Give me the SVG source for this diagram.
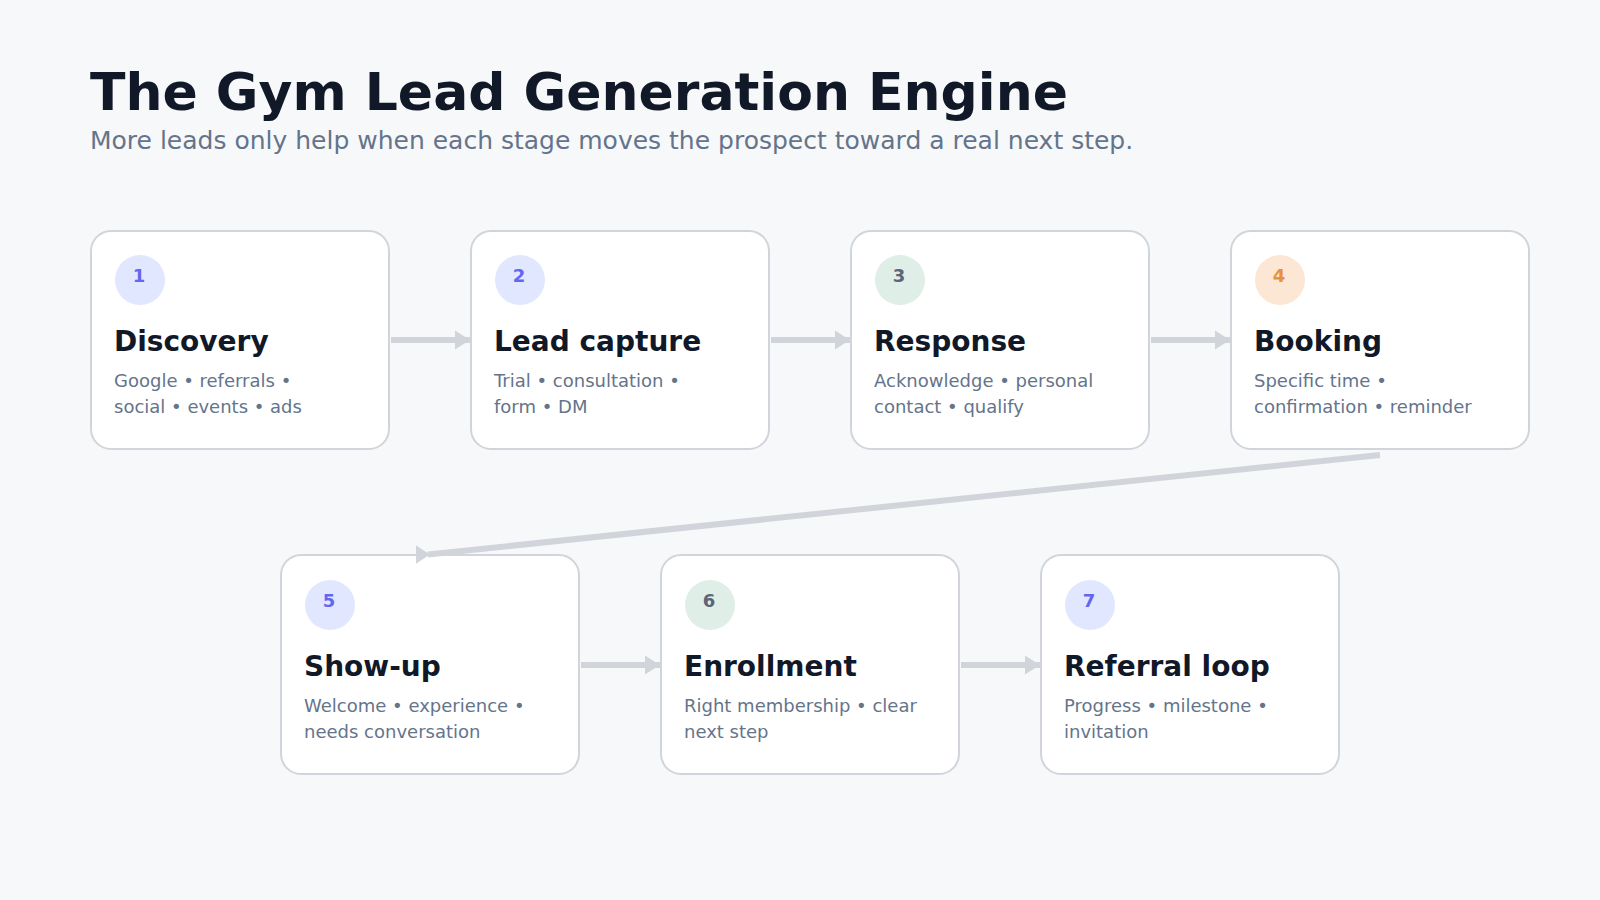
<svg xmlns="http://www.w3.org/2000/svg" width="1600" height="900" viewBox="0 0 1600 900">
  <style>
    .title { font-family: "DejaVu Sans", sans-serif; font-weight: bold; font-size: 52px; fill: #111827; }
    .subtitle { font-family: "DejaVu Sans", sans-serif; font-size: 25px; fill: #64748b; }
    .card { fill: #ffffff; stroke: #d1d5db; stroke-width: 2; }
    .head { font-family: "DejaVu Sans", sans-serif; font-weight: bold; font-size: 28px; fill: #111827; }
    .desc { font-family: "DejaVu Sans", sans-serif; font-size: 18px; fill: #64748b; }
    .num { font-family: "DejaVu Sans", sans-serif; font-weight: bold; font-size: 18px; text-anchor: middle; }
    .c-indigo { fill: #e0e7ff; }
    .t-indigo { fill: #6366f1; }
    .c-green { fill: #dfeee6; }
    .t-green { fill: #5b6478; }
    .c-orange { fill: #fbe7d3; }
    .t-orange { fill: #e8903a; }
    .conn { fill: none; stroke: #d1d5db; stroke-width: 6; }
  </style>
  <defs>
    <marker id="arrow" markerUnits="userSpaceOnUse" markerWidth="16" markerHeight="20" refX="15" refY="10" orient="auto">
      <path d="M0,0.5 L15,10 L0,19.5 Z" fill="#d1d5db"/>
    </marker>
    <marker id="arrow-fixed" markerUnits="userSpaceOnUse" markerWidth="16" markerHeight="20" refX="12" refY="9.3" orient="0">
      <path d="M0,0 L14,9.3 L0,18.6 Z" fill="#d1d5db"/>
    </marker>
  </defs>
  <rect x="0" y="0" width="1600" height="900" fill="#f7f8fa"/>

  <text class="title" x="90" y="110">The Gym Lead Generation Engine</text>
  <text class="subtitle" x="90" y="149">More leads only help when each stage moves the prospect toward a real next step.</text>

  <g id="node1">
    <rect class="card" x="91" y="231" width="298" height="218" rx="20"/>
    <circle class="c-indigo" cx="140" cy="280" r="25"/>
    <text class="num t-indigo" x="139" y="282">1</text>
    <text class="head" x="114" y="351">Discovery</text>
    <text class="desc" x="114" y="387">Google • referrals •</text>
    <text class="desc" x="114" y="413">social • events • ads</text>
  </g>
  <g id="node2">
    <rect class="card" x="471" y="231" width="298" height="218" rx="20"/>
    <circle class="c-indigo" cx="520" cy="280" r="25"/>
    <text class="num t-indigo" x="519" y="282">2</text>
    <text class="head" x="494" y="351">Lead capture</text>
    <text class="desc" x="494" y="387">Trial • consultation •</text>
    <text class="desc" x="494" y="413">form • DM</text>
  </g>
  <g id="node3">
    <rect class="card" x="851" y="231" width="298" height="218" rx="20"/>
    <circle class="c-green" cx="900" cy="280" r="25"/>
    <text class="num t-green" x="899" y="282">3</text>
    <text class="head" x="874" y="351">Response</text>
    <text class="desc" x="874" y="387">Acknowledge • personal</text>
    <text class="desc" x="874" y="413">contact • qualify</text>
  </g>
  <g id="node4">
    <rect class="card" x="1231" y="231" width="298" height="218" rx="20"/>
    <circle class="c-orange" cx="1280" cy="280" r="25"/>
    <text class="num t-orange" x="1279" y="282">4</text>
    <text class="head" x="1254" y="351">Booking</text>
    <text class="desc" x="1254" y="387">Specific time •</text>
    <text class="desc" x="1254" y="413">confirmation • reminder</text>
  </g>
  <g id="node5">
    <rect class="card" x="281" y="555" width="298" height="219" rx="20"/>
    <circle class="c-indigo" cx="330" cy="605" r="25"/>
    <text class="num t-indigo" x="329" y="607">5</text>
    <text class="head" x="304" y="676">Show-up</text>
    <text class="desc" x="304" y="712">Welcome • experience •</text>
    <text class="desc" x="304" y="738">needs conversation</text>
  </g>
  <g id="node6">
    <rect class="card" x="661" y="555" width="298" height="219" rx="20"/>
    <circle class="c-green" cx="710" cy="605" r="25"/>
    <text class="num t-green" x="709" y="607">6</text>
    <text class="head" x="684" y="676">Enrollment</text>
    <text class="desc" x="684" y="712">Right membership • clear</text>
    <text class="desc" x="684" y="738">next step</text>
  </g>
  <g id="node7">
    <rect class="card" x="1041" y="555" width="298" height="219" rx="20"/>
    <circle class="c-indigo" cx="1090" cy="605" r="25"/>
    <text class="num t-indigo" x="1089" y="607">7</text>
    <text class="head" x="1064" y="676">Referral loop</text>
    <text class="desc" x="1064" y="712">Progress • milestone •</text>
    <text class="desc" x="1064" y="738">invitation</text>
  </g>

  <g id="connectors">
    <path class="conn" d="M391,340 L470,340" marker-end="url(#arrow)"/>
    <path class="conn" d="M771,340 L850,340" marker-end="url(#arrow)"/>
    <path class="conn" d="M1151,340 L1230,340" marker-end="url(#arrow)"/>
    <path class="conn" d="M1380,455 L428,554.5" stroke-width="5" marker-end="url(#arrow-fixed)"/>
    <path class="conn" d="M581,665 L660,665" marker-end="url(#arrow)"/>
    <path class="conn" d="M961,665 L1040,665" marker-end="url(#arrow)"/>
  </g>
</svg>
